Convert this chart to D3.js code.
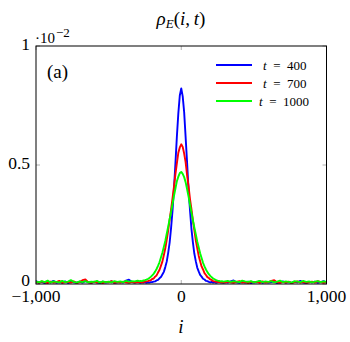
<!DOCTYPE html>
<html>
<head>
<meta charset="utf-8">
<script src="https://cdn.jsdelivr.net/npm/d3@7"></script>
</head>
<body style="margin:0">
<script>
// site index grid: coarse in the tails, finer around the peak
var sites = d3.range(-1000, -299, 20).concat(d3.range(-290, 291, 10), d3.range(300, 1001, 20));

// rho_E values, in units of 1e-2
var rho400 = [
  0.012, 0.006, 0.009, 0.004, 0.010, 0.007, 0.013, 0.005, 0.008, 0.006, 0.011, 0.004,
  0.009, 0.007, 0.005, 0.010, 0.006, 0.012, 0.008, 0.005, 0.009, 0.007, 0.004, 0.010,
  0.006, 0.008, 0.011, 0.005, 0.007, 0.009, 0.006, 0.014, 0.018, 0.008, 0.006, 0.009,
  0.007, 0.005, 0.009, 0.006, 0.008, 0.005, 0.007, 0.006, 0.008, 0.008, 0.010, 0.011,
  0.015, 0.017, 0.024, 0.029, 0.040, 0.051, 0.071, 0.094, 0.131, 0.174, 0.236, 0.309,
  0.401, 0.508, 0.621, 0.718, 0.792, 0.822, 0.788, 0.722, 0.618, 0.512, 0.398, 0.312,
  0.233, 0.176, 0.128, 0.096, 0.069, 0.053, 0.038, 0.031, 0.022, 0.019, 0.013, 0.012,
  0.009, 0.007, 0.009, 0.006, 0.008, 0.005, 0.007, 0.010, 0.006, 0.008, 0.005,
  0.008, 0.006, 0.011, 0.015, 0.007, 0.005, 0.009, 0.006, 0.010, 0.004, 0.008, 0.007,
  0.012, 0.005, 0.009, 0.006, 0.008, 0.010, 0.004, 0.007, 0.011, 0.006, 0.008, 0.005,
  0.009, 0.007, 0.013, 0.006, 0.004, 0.009, 0.007, 0.010, 0.005, 0.008, 0.012, 0.006
];
var rho700 = [
  0.009, 0.005, 0.011, 0.007, 0.004, 0.010, 0.006, 0.008, 0.013, 0.005, 0.007, 0.009,
  0.006, 0.011, 0.004, 0.008, 0.016, 0.019, 0.007, 0.005, 0.010, 0.006, 0.008, 0.004,
  0.009, 0.007, 0.012, 0.005, 0.008, 0.006, 0.010, 0.007, 0.005, 0.009, 0.006, 0.008,
  0.007, 0.009, 0.006, 0.008, 0.010, 0.011, 0.012, 0.014, 0.016, 0.021, 0.023, 0.031,
  0.036, 0.048, 0.059, 0.076, 0.094, 0.121, 0.149, 0.186, 0.224, 0.271, 0.314, 0.361,
  0.409, 0.462, 0.508, 0.552, 0.574, 0.587, 0.576, 0.548, 0.512, 0.458, 0.412, 0.358,
  0.316, 0.268, 0.226, 0.184, 0.151, 0.119, 0.096, 0.074, 0.061, 0.046, 0.038, 0.029,
  0.025, 0.019, 0.017, 0.012, 0.011, 0.009, 0.010, 0.007, 0.009, 0.006, 0.008,
  0.006, 0.010, 0.007, 0.005, 0.009, 0.012, 0.006, 0.008, 0.004, 0.010, 0.007, 0.009,
  0.005, 0.011, 0.006, 0.008, 0.013, 0.016, 0.007, 0.005, 0.009, 0.006, 0.010, 0.004,
  0.008, 0.011, 0.006, 0.009, 0.005, 0.007, 0.010, 0.006, 0.012, 0.008, 0.005, 0.009
];
var rho1000 = [
  0.010, 0.007, 0.012, 0.008, 0.014, 0.006, 0.011, 0.009, 0.007, 0.013, 0.008, 0.010,
  0.016, 0.009, 0.006, 0.011, 0.008, 0.012, 0.007, 0.010, 0.009, 0.013, 0.006, 0.011,
  0.008, 0.010, 0.007, 0.012, 0.009, 0.011, 0.008, 0.013, 0.010, 0.012, 0.011, 0.014,
  0.012, 0.013, 0.012, 0.015, 0.016, 0.018, 0.021, 0.025, 0.030, 0.036, 0.043, 0.052,
  0.063, 0.076, 0.091, 0.111, 0.131, 0.156, 0.181, 0.211, 0.241, 0.272, 0.302, 0.336,
  0.371, 0.401, 0.432, 0.451, 0.466, 0.471, 0.463, 0.449, 0.428, 0.399, 0.368, 0.334,
  0.301, 0.269, 0.238, 0.209, 0.179, 0.154, 0.129, 0.109, 0.089, 0.074, 0.061, 0.050,
  0.041, 0.034, 0.028, 0.023, 0.020, 0.016, 0.014, 0.013, 0.011, 0.012, 0.010,
  0.011, 0.013, 0.009, 0.012, 0.010, 0.008, 0.014, 0.011, 0.009, 0.012, 0.007, 0.010,
  0.013, 0.008, 0.011, 0.009, 0.012, 0.007, 0.010, 0.014, 0.008, 0.011, 0.009, 0.006,
  0.012, 0.010, 0.008, 0.013, 0.009, 0.011, 0.007, 0.010, 0.012, 0.008, 0.011, 0.009
];

var seriesNames = ["t = 400", "t = 700", "t = 1000"];
var seriesColors = ["#0000ff", "#ff0000", "#00ff00"];
var xTicks = [-1000, 0, 1000];
var yTicks = [0, 0.5, 1];

var FONT = "'Liberation Serif', serif";
var width = 350, height = 342;
var margin = {top: 46, right: 23.5, bottom: 58, left: 36};
var w = width - margin.left - margin.right;
var h = height - margin.top - margin.bottom;

var svg = d3.select("body").append("svg")
  .attr("width", width).attr("height", height);
var g = svg.append("g").attr("transform", "translate(" + margin.left + "," + margin.top + ")");

var x = d3.scaleLinear().domain([-1000, 1000]).range([0, w]);
var y = d3.scaleLinear().domain([0, 1]).range([h, 0]);

svg.append("defs").append("clipPath").attr("id", "clip")
  .append("rect").attr("width", w).attr("height", h);

// inner grey tick marks on all four sides
var tickCol = "#b0b0b0";
g.selectAll(".xtb").data(xTicks).enter().append("line")
  .attr("x1", d => x(d)).attr("x2", d => x(d)).attr("y1", h).attr("y2", h - 4)
  .attr("stroke", tickCol);
g.selectAll(".xtt").data(xTicks).enter().append("line")
  .attr("x1", d => x(d)).attr("x2", d => x(d)).attr("y1", 0).attr("y2", 4)
  .attr("stroke", tickCol);
g.selectAll(".ytl").data(yTicks).enter().append("line")
  .attr("x1", 0).attr("x2", 4).attr("y1", d => y(d)).attr("y2", d => y(d))
  .attr("stroke", tickCol);
g.selectAll(".ytr").data(yTicks).enter().append("line")
  .attr("x1", w).attr("x2", w - 4).attr("y1", d => y(d)).attr("y2", d => y(d))
  .attr("stroke", tickCol);

// curves
var all = [rho400, rho700, rho1000];
var line = d3.line().x((d, i) => x(sites[i])).y(d => y(d));
var plot = g.append("g").attr("clip-path", "url(#clip)");
all.forEach(function(vals, k) {
  plot.append("path").datum(vals)
    .attr("d", line)
    .attr("fill", "none")
    .attr("stroke", seriesColors[k])
    .attr("stroke-width", 1.9)
    .attr("stroke-linejoin", "round");
});

// frame
g.append("rect").attr("width", w).attr("height", h)
  .attr("fill", "none").attr("stroke", "#000").attr("stroke-width", 1);

// tick labels
var fmt = d => d === 0 ? "0" : d3.format(",")(d).replace("-", "\u2212");
g.selectAll(".xl").data(xTicks).enter().append("text")
  .attr("x", d => x(d)).attr("y", h + 18)
  .attr("text-anchor", "middle").style("font-family", FONT).attr("font-size", 17.5)
  .text(fmt);
g.selectAll(".yl").data(yTicks).enter().append("text")
  .attr("x", -6).attr("y", d => y(d) + (d === 0 ? 2 : 4))
  .attr("text-anchor", "end").style("font-family", FONT).attr("font-size", 17.5)
  .text(d => d);

// scale factor label
var sc = svg.append("text").attr("x", 35).attr("y", 43)
  .style("font-family", FONT).attr("font-size", 15);
sc.append("tspan").text("\u00b710");
sc.append("tspan").attr("dy", -6).attr("dx", 1).attr("font-size", 13).text("\u22122");

// title
var title = svg.append("text").attr("x", 181).attr("y", 25).attr("text-anchor", "middle")
  .style("font-family", FONT).attr("font-size", 19);
title.append("tspan").attr("font-style", "italic").text("\u03c1");
title.append("tspan").attr("dy", 3).attr("font-size", 13).attr("font-style", "italic").text("E");
title.append("tspan").attr("dy", -3).text("(");
title.append("tspan").attr("font-style", "italic").text("i");
title.append("tspan").text(",\u2009");
title.append("tspan").attr("font-style", "italic").text("t");
title.append("tspan").text(")");

// x label
svg.append("text").attr("x", 181).attr("y", 333).attr("text-anchor", "middle")
  .style("font-family", FONT).attr("font-size", 19).attr("font-style", "italic").text("i");

// panel tag
svg.append("text").attr("x", 47).attr("y", 78)
  .style("font-family", FONT).attr("font-size", 19).text("(a)");

// legend
var leg = svg.append("g").attr("transform", "translate(216,65)");
seriesNames.forEach(function(name, k) {
  var row = leg.append("g").attr("transform", "translate(0," + (k * 18) + ")");
  row.append("line").attr("x1", 0).attr("x2", 36).attr("y1", 0).attr("y2", 0)
    .attr("stroke", seriesColors[k]).attr("stroke-width", 2);
  var t = row.append("text").attr("x", k === 2 ? 43 : 47).attr("y", 4.5)
    .style("font-family", FONT).attr("font-size", 13);
  var parts = name.split(" = ");
  t.append("tspan").attr("font-style", "italic").text(parts[0]);
  t.append("tspan").text("\u2002=\u2002" + parts[1]);
});
</script>
</body>
</html>
